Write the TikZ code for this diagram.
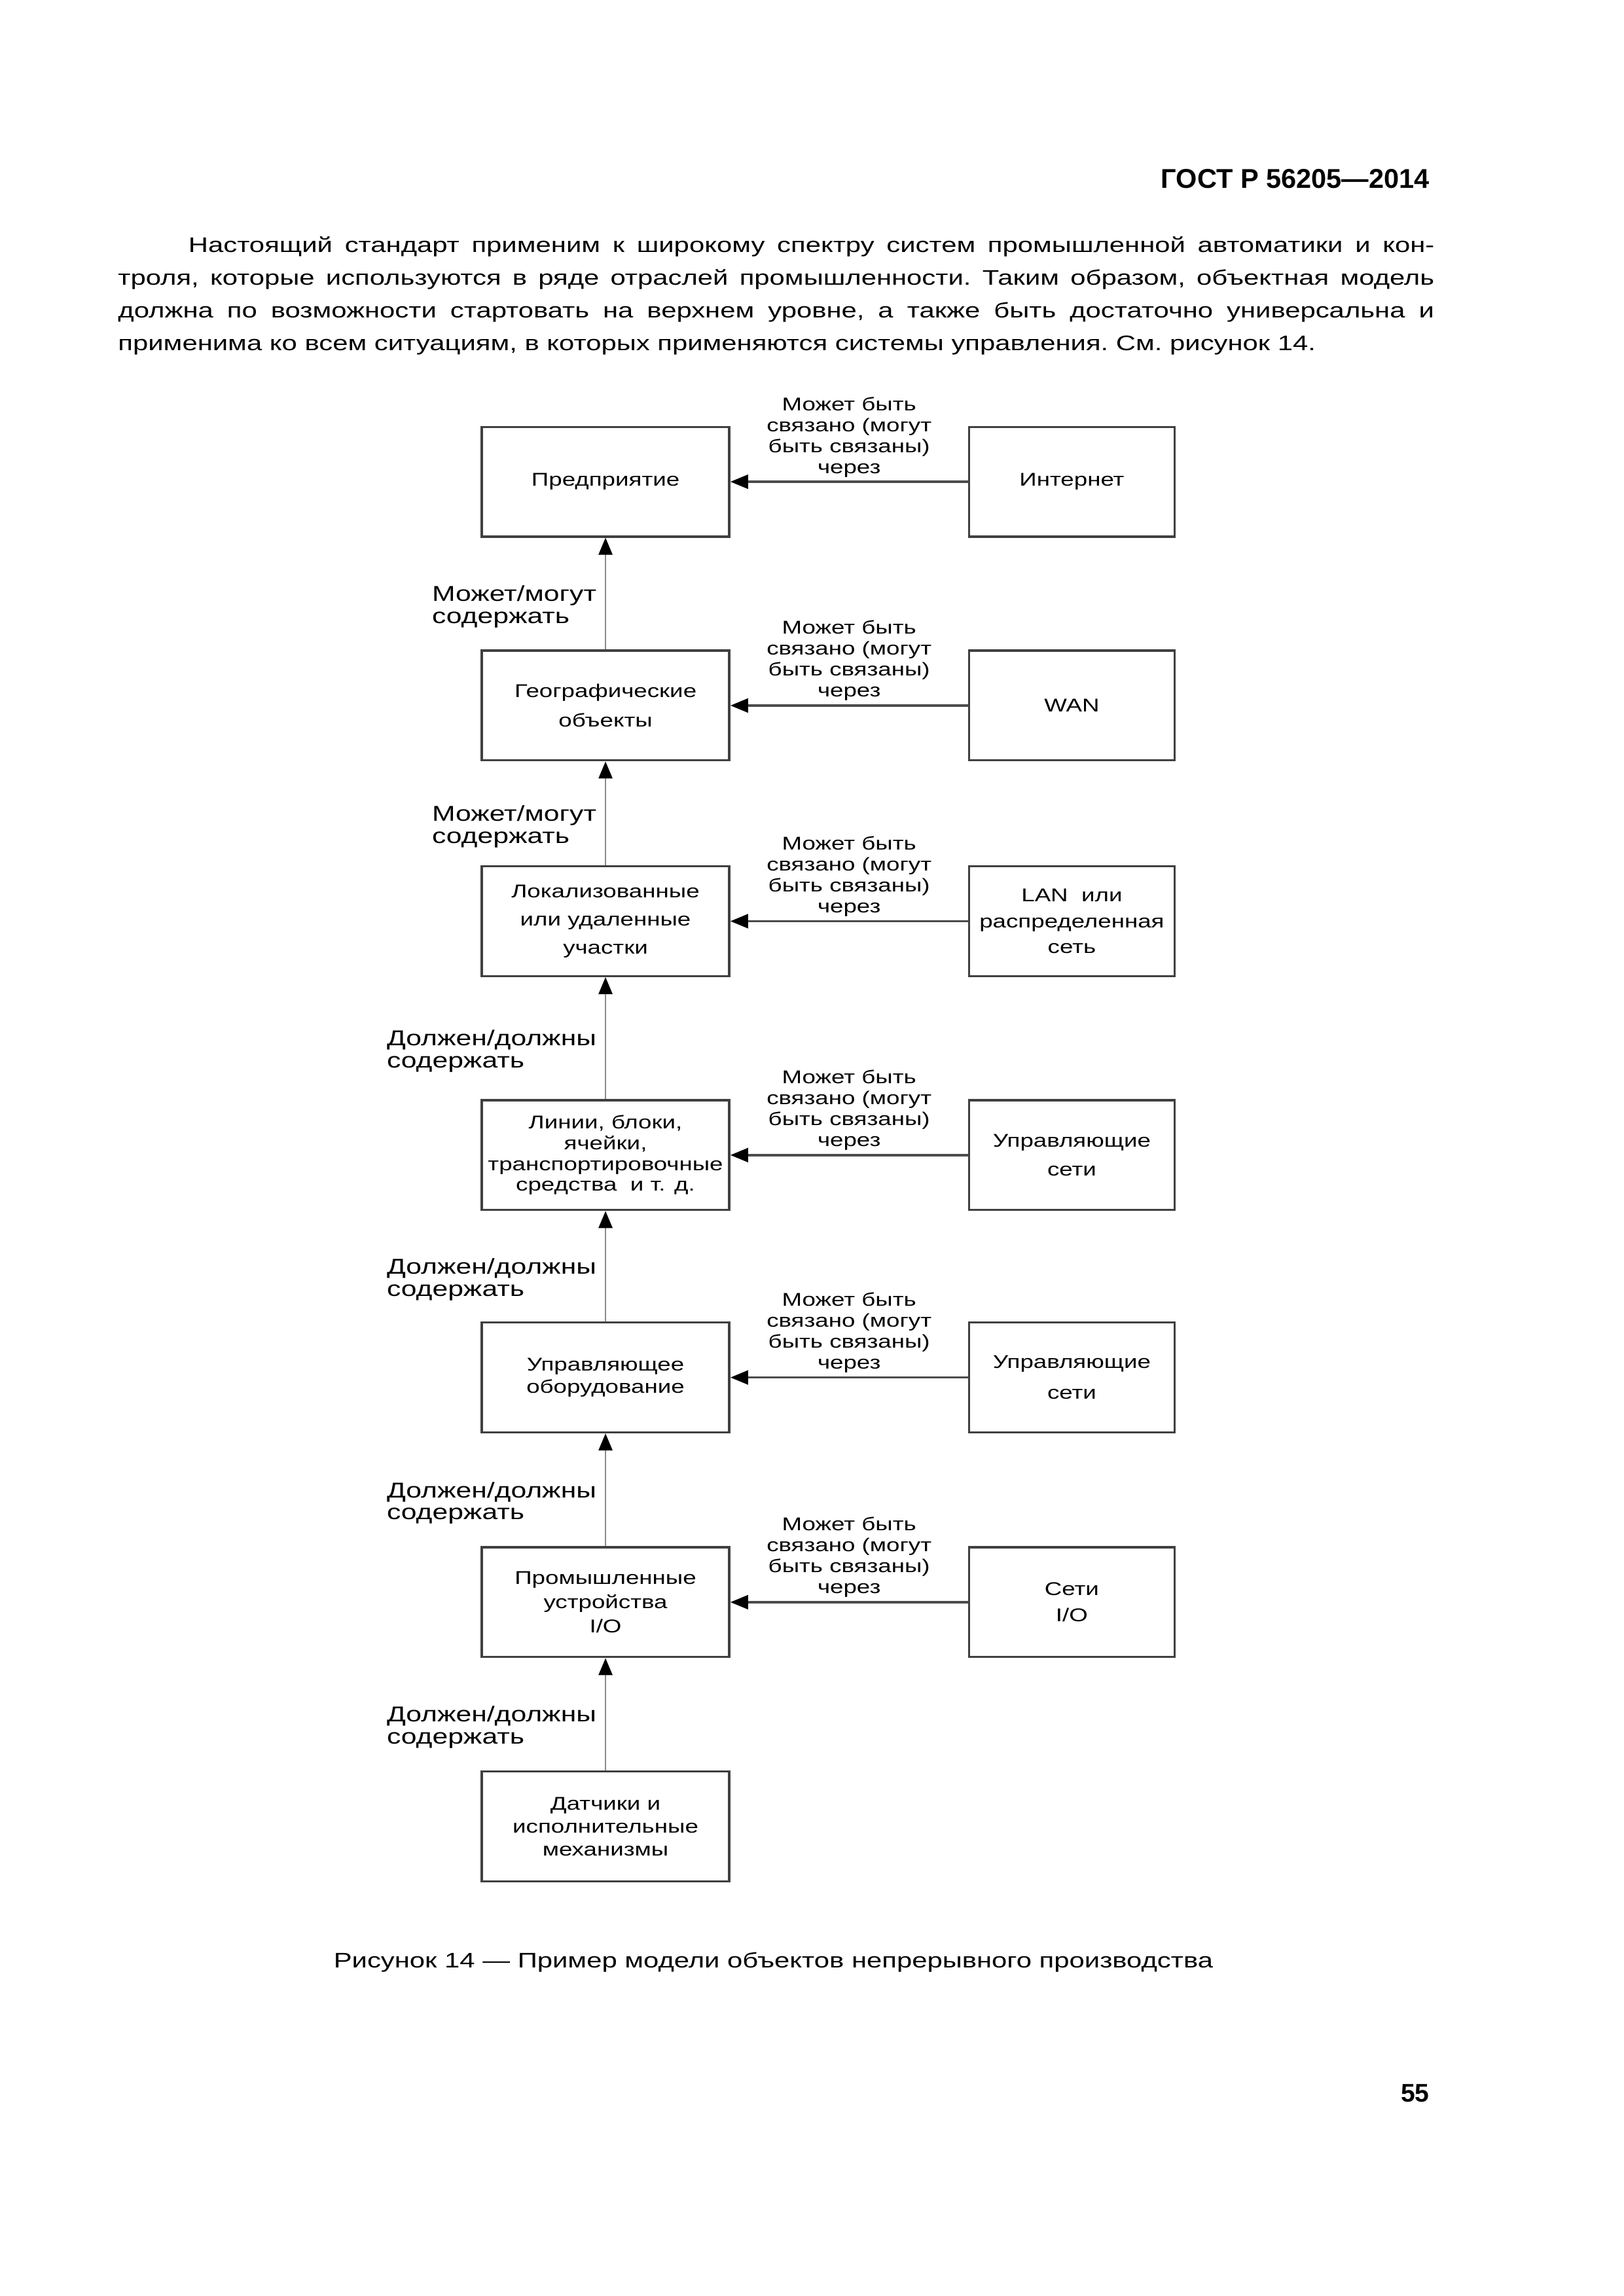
\documentclass[tikz,border=0pt]{standalone}
\usepackage{fontspec}
\setmainfont{Liberation Sans}
\newfontfamily\widesans[FakeStretch=1.3]{Liberation Sans}
\usetikzlibrary{arrows.meta,positioning,calc}

\tikzset{
  lead/.style={font=\widesans\fontsize{6.8}{#1}\selectfont},
  obj/.style={draw=black!75, line width=0.8pt, minimum width=32mm, minimum height=14.2mm,
    inner sep=0pt, align=center, lead=8},
  net/.style={obj, minimum width=26.6mm},
  link/.style={draw=black!70, line width=0.9pt, -{Triangle[length=2.3mm,width=1.8mm,color=black]}},
  hold/.style={draw=black!45, line width=0.5pt, -{Triangle[length=2.2mm,width=1.8mm,color=black]}},
  via/.style={font=\widesans\fontsize{6.8}{7.7}\selectfont, align=center, inner sep=0pt},
  holdlabel/.style={font=\widesans\fontsize{7.9}{8.1}\selectfont, align=left, inner sep=0pt}
}

\begin{document}
\begin{tikzpicture}[x=1mm,y=-1mm]
\useasboundingbox (0,0) rectangle (210,296.93);

% page head and text
\node[anchor=base east, inner sep=0pt, font=\bfseries\fontsize{10}{12}\selectfont] (gost) at (184.9,24.37) {ГОСТ Р 56205—2014};
\node[anchor=north west, inner sep=0pt, text width=170.2mm, align=justify,
  font=\widesans\fontsize{7.75}{12.1}\selectfont] (intro) at (15.2,30.5)
  {\noindent\frenchspacing\hspace*{9.1mm}Настоящий стандарт применим к широкому спектру систем промышленной автоматики и кон-\linebreak
   троля, которые используются в ряде отраслей промышленности. Таким образом, объектная модель\linebreak
   должна по возможности стартовать на верхнем уровне, а также быть достаточно универсальна и\linebreak
   применима ко всем ситуациям, в которых применяются системы управления. См. рисунок 14.};

% objects
\node[obj] (obj1) at (78.3,62.3) {Предприятие};
\node[obj, lead=10.8] (obj2) at (78.3,91.24) {Географические\\объекты};
\node[obj, lead=10.4] (obj3) at (78.3,119.13) {Локализованные\\или удаленные\\участки};
\node[obj, lead=7.6] (obj4) at (78.3,149.38) {Линии, блоки,\\ячейки,\\транспортировочные\\средства\ \ и т. д.};
\node[obj] (obj5) at (78.3,178.14) {Управляющее\\оборудование};
\node[obj, lead=8.8] (obj6) at (78.3,207.2) {Промышленные\\устройства\\I/O};
\node[obj, lead=8.4] (obj7) at (78.3,236.2) {Датчики и\\исполнительные\\механизмы};

% networks
\node[net] (net1) at (138.6,62.3) {Интернет};
\node[net] (net2) at (138.6,91.24) {WAN};
\node[net, lead=9.5] (net3) at (138.6,119.13) {LAN\ \ или\\распределенная\\сеть};
\node[net, lead=10.7] (net4) at (138.6,149.38) {Управляющие\\сети};
\node[net, lead=11.3] (net5) at (138.6,178.14) {Управляющие\\сети};
\node[net, lead=9.6] (net6) at (138.6,207.2) {Сети\\I/O};

% links
\foreach \i in {1,...,6}
  \draw[link] (net\i.west) -- (net\i.west -| obj\i.east)
    node[via, midway, anchor=south, yshift=0.45mm] (via\i) {Может быть\\связано (могут\\быть связаны)\\через};

\foreach \i/\j/\txt in {2/1/{Может/могут\\содержать}, 3/2/{Может/могут\\содержать},
    4/3/{Должен/должны\\содержать}, 5/4/{Должен/должны\\содержать},
    6/5/{Должен/должны\\содержать}, 7/6/{Должен/должны\\содержать}}
  \draw[hold] (obj\i.north) -- (obj\j.south)
    node[holdlabel, midway, anchor=east, xshift=-1.1mm, yshift=-1.7mm] (hold\i) {\txt};

% caption and page
\node[anchor=base, inner sep=0pt, font=\widesans\fontsize{7.75}{10}\selectfont] (caption) at (100.0,254.5)
  {Рисунок 14 — Пример модели объектов непрерывного производства};
\node[anchor=base east, inner sep=0pt, font=\bfseries\fontsize{9.4}{11}\selectfont] (page) at (184.9,271.85) {55};
\end{tikzpicture}
\end{document}
